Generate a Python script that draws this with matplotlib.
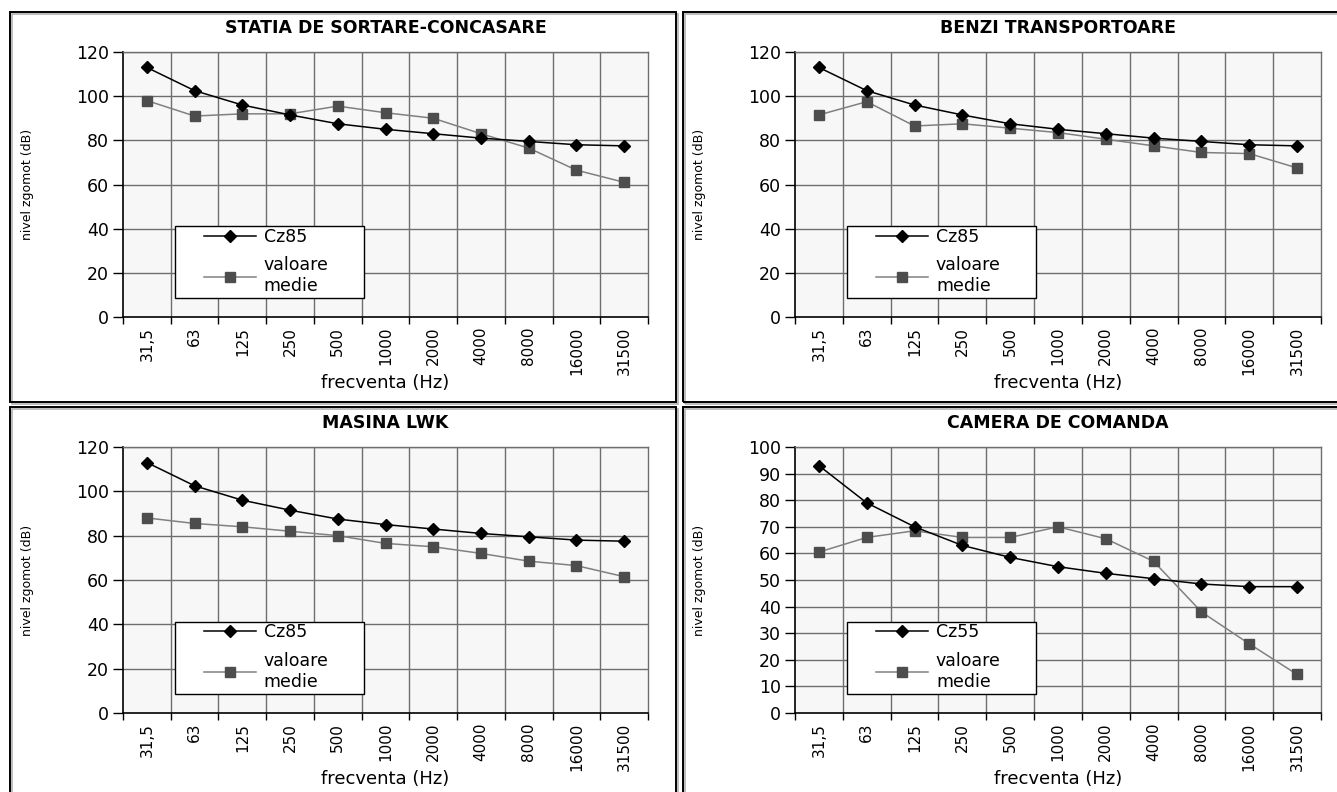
import matplotlib
matplotlib.use("Agg")
import matplotlib.pyplot as plt
from matplotlib.patches import Rectangle
import numpy as np

plt.rcParams['font.family'] = ['DejaVu Sans']

# Octave-band centre frequencies (Hz)
frequencies = ["31,5", "63", "125", "250", "500", "1000", "2000", "4000",
               "8000", "16000", "31500"]

# Reference noise-rating curves (dB)
cz85 = [113, 102.5, 96, 91.5, 87.5, 85, 83, 81, 79.5, 78, 77.5]
cz55 = [93, 79, 70, 63, 58.5, 55, 52.5, 50.5, 48.5, 47.5, 47.5]

# Measured mean levels (dB)
statia_medie = [98, 91, 92, 92, 95.5, 92.5, 90, 83, 76.5, 66.5, 61]
benzi_medie = [91.5, 97.5, 86.5, 87.5, 85.5, 83.5, 80.5, 77.5, 74.5, 74, 67.5]
lwk_medie = [88, 85.5, 84, 82, 80, 76.5, 75, 72, 68.5, 66.5, 61.5]
camera_medie = [60.5, 66, 68.5, 66, 66, 70, 65.5, 57, 38, 26, 14.5]

titles = ["STATIA DE SORTARE-CONCASARE", "BENZI TRANSPORTOARE",
          "MASINA LWK", "CAMERA DE COMANDA"]
ref_labels = ["Cz85", "Cz85", "Cz85", "Cz55"]
ref_curves = [cz85, cz85, cz85, cz55]
mean_curves = [statia_medie, benzi_medie, lwk_medie, camera_medie]
y_limits = [120, 120, 120, 100]
y_steps = [20, 20, 20, 10]

W, H = 1337, 792
fig = plt.figure(figsize=(W / 100, H / 100), dpi=100)
fig.patch.set_facecolor("white")


def fx(px):
    return px / W


def fy(py):
    return 1 - py / H


# panel frames (pixel boxes: left, top, right, bottom)
frames = [(10, 12, 676, 402), (683, 12, 1345, 402),
          (10, 407, 676, 800), (683, 407, 1345, 800)]
for (l, t, r, b) in frames:
    fig.add_artist(Rectangle((fx(l) + 0.0012, fy(b) - 0.002), fx(r - l), fy(t) - fy(b),
                             transform=fig.transFigure, fill=False,
                             edgecolor="#b0b0b0", linewidth=1.2))
    fig.add_artist(Rectangle((fx(l), fy(b)), fx(r - l), fy(t) - fy(b),
                             transform=fig.transFigure, fill=False,
                             edgecolor="black", linewidth=1.4))

# plot areas (pixel boxes: left, top, right, bottom)
areas = [(123, 52, 648, 317), (795, 52, 1321, 317),
         (123, 447, 648, 713), (795, 447, 1321, 713)]

grid_col = "#6e6e6e"
n = len(frequencies)
x = np.arange(n) + 0.5

for i, (l, t, r, b) in enumerate(areas):
    ax = fig.add_axes([fx(l), fy(b), fx(r - l), fy(t) - fy(b)])
    ax.set_facecolor("#f7f7f7")
    ax.set_xlim(0, n)
    ax.set_ylim(0, y_limits[i])

    yt = np.arange(0, y_limits[i] + 1, y_steps[i])
    ax.set_yticks(yt)
    ax.tick_params(axis="y", direction="out", length=7, width=1, pad=3,
                   labelsize=12.5, colors="black")
    for v in yt[1:]:
        ax.axhline(v, color=grid_col, lw=1, zorder=1)
    for k in range(1, n):
        ax.axvline(k, color=grid_col, lw=1, zorder=1)

    ax.set_xticks(x)
    ax.set_xticklabels(frequencies, rotation=90, fontsize=11)
    ax.tick_params(axis="x", which="major", length=0, pad=7)
    ax.set_xticks(np.arange(n + 1), minor=True)
    ax.tick_params(axis="x", which="minor", direction="out", length=5, width=1)

    for side in ("top", "right"):
        ax.spines[side].set_color(grid_col)
        ax.spines[side].set_linewidth(1)
    for side in ("left", "bottom"):
        ax.spines[side].set_color("black")
        ax.spines[side].set_linewidth(1.2)

    ax.plot(x, ref_curves[i], color="black", lw=1.1, marker="D", ms=6,
            mfc="black", mec="black", label=ref_labels[i], zorder=4,
            clip_on=False)
    ax.plot(x, mean_curves[i], color="#808080", lw=1.1, marker="s", ms=7,
            mfc="#4d4d4d", mec="#4d4d4d", label="valoare\nmedie", zorder=3,
            clip_on=False)

    ax.set_title(titles[i], fontsize=12.5, fontweight="bold", y=1.09,
                 va="center", pad=0)
    ax.set_ylabel("nivel zgomot (dB)", fontsize=9)
    ax.yaxis.set_label_coords(-0.17, 0.5)
    ax.set_xlabel("frecventa (Hz)", fontsize=13)
    ax.xaxis.set_label_coords(0.5, -0.215)

    # legend box with inset entries
    ax.add_patch(Rectangle((0.099, 0.072), 0.36, 0.271, transform=ax.transAxes,
                           facecolor="white", edgecolor="black", lw=1,
                           zorder=5))
    ax.legend(loc="upper left", bbox_to_anchor=(0.154, 0.337),
              fontsize=12.5, frameon=False, handlelength=3.0,
              handletextpad=0.45, labelspacing=0.62, borderpad=0,
              borderaxespad=0).set_zorder(6)

fig.savefig("out.png", dpi=100, facecolor="white")
